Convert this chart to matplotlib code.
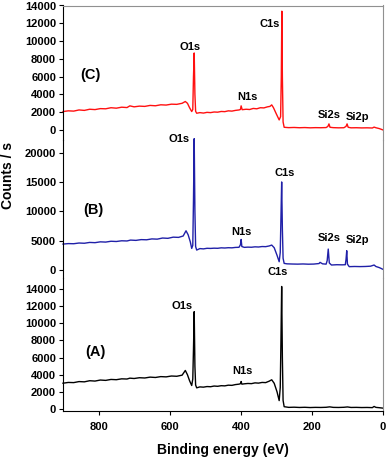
import matplotlib
matplotlib.use("Agg")
import matplotlib.pyplot as plt

# ---------------------------------------------------------------------------
# XPS survey spectra (binding energy eV, counts/s)
# ---------------------------------------------------------------------------
E_C = [900, 885, 870, 855, 840, 825, 810, 795, 780, 765, 750, 735, 720, 712,
       700, 685, 670, 655, 640, 625, 610, 595, 580, 565, 556, 550, 544, 538,
       535, 533, 531, 529, 527, 524, 515, 505, 495, 485, 475, 465, 455, 445,
       435, 425, 415, 405, 401, 399, 396, 385, 375, 365, 355, 345, 335, 325,
       318, 313, 308, 300, 292, 288, 286, 284.5, 283, 281, 278, 265, 250, 235,
       220, 205, 190, 175, 160, 155, 152, 149, 140, 125, 110, 104, 101, 98, 90,
       75, 60, 45, 30, 25, 20, 10, 0]
CNT_C = [2070, 2150, 2120, 2250, 2200, 2330, 2290, 2400, 2380, 2500, 2450, 2560,
         2520, 2710, 2600, 2680, 2650, 2760, 2720, 2830, 2800, 2900, 2880, 3000,
         3200, 3000, 2500, 2070, 2300, 6000, 8660, 4000, 2100, 1880, 1950, 1900,
         1980, 1950, 2020, 2000, 2080, 2060, 2150, 2120, 2200, 2250, 2300, 2710,
         2280, 2330, 2300, 2420, 2380, 2500, 2480, 2600, 2650, 2820, 2500, 1800,
         1130, 1500, 6000, 13360, 6000, 900, 300, 260, 280, 250, 270, 240, 260,
         250, 270, 400, 680, 300, 260, 240, 250, 400, 680, 300, 240, 250, 230,
         240, 220, 320, 250, 150, 0]

E_B = [900, 885, 870, 855, 840, 825, 810, 795, 780, 765, 750, 735, 720, 710,
       695, 680, 665, 650, 635, 620, 605, 590, 575, 562, 554, 548, 542, 538,
       535, 533, 531, 529, 527, 524, 515, 505, 495, 485, 475, 465, 455, 445,
       435, 425, 415, 405, 401, 399, 397, 390, 380, 370, 360, 350, 340, 330,
       320, 313, 306, 298, 292, 289, 287, 285, 283, 281, 278, 270, 255, 240,
       225, 210, 195, 180, 177, 170, 160, 157, 154, 151, 145, 130, 115, 106,
       104, 102, 100, 95, 80, 65, 50, 35, 25, 20, 10, 0]
CNT_B = [4420, 4500, 4480, 4600, 4560, 4700, 4660, 4800, 4760, 4900, 4860, 4980,
         4950, 5100, 5050, 5180, 5150, 5300, 5260, 5450, 5400, 5600, 5560, 5800,
         6690, 6000, 4800, 3680, 4200, 12000, 22390, 10000, 4000, 3400, 3650,
         3600, 3700, 3680, 3720, 3700, 3780, 3750, 3800, 3780, 3850, 3870, 4300,
         5210, 4000, 3860, 3900, 3880, 3950, 3920, 4000, 3980, 4100, 4250, 3800,
         2500, 1410, 3000, 9000, 15010, 7000, 2000, 1130, 1050, 1020, 1000, 1030,
         990, 1010, 1100, 1300, 1050, 1000, 1600, 3570, 1200, 850, 900, 880, 900,
         1800, 3290, 1000, 570, 600, 580, 600, 650, 850, 600, 400, 110]

E_A = [900, 885, 870, 855, 840, 825, 810, 795, 780, 765, 750, 735, 720, 712,
       700, 685, 670, 655, 640, 625, 610, 595, 580, 565, 556, 550, 544, 538,
       535, 533, 531, 529, 527, 524, 515, 505, 495, 485, 475, 465, 455, 445,
       435, 425, 415, 405, 401, 399, 397, 390, 380, 370, 360, 350, 340, 330,
       320, 313, 306, 298, 292, 289, 287, 285, 283, 281, 278, 265, 250, 235,
       220, 205, 190, 175, 160, 150, 140, 125, 110, 100, 90, 75, 60, 45, 30,
       25, 20, 10, 0]
CNT_A = [3010, 3100, 3080, 3200, 3170, 3300, 3260, 3380, 3340, 3450, 3420, 3520,
         3500, 3600, 3560, 3650, 3620, 3720, 3680, 3780, 3750, 3850, 3820, 3950,
         4500, 4000, 3300, 2740, 3500, 7000, 11360, 5000, 2800, 2470, 2580, 2550,
         2620, 2600, 2680, 2650, 2720, 2700, 2780, 2760, 2850, 2900, 2950, 3210,
         2900, 2940, 2980, 2960, 3050, 3020, 3100, 3080, 3250, 3410, 3000, 2000,
         980, 2500, 8000, 14300, 6000, 1000, 270, 190, 210, 180, 200, 170, 190,
         180, 200, 250, 190, 180, 200, 240, 180, 190, 170, 180, 160, 300, 190,
         150, 100]

X_TICKS = [800, 600, 400, 200, 0]
Y_TICKS_C = [0, 2000, 4000, 6000, 8000, 10000, 12000, 14000]
Y_TICKS_B = [0, 5000, 10000, 15000, 20000]
Y_TICKS_A = [0, 2000, 4000, 6000, 8000, 10000, 12000, 14000]

FONT = "Liberation Sans"
W, H = 387, 457


def px_axes(fig, top, bottom, left=63, right=383):
    return fig.add_axes([left / W, 1 - bottom / H, (right - left) / W,
                         (bottom - top) / H])


def style_axes(ax, ylim, yticks, show_top=False, show_bottom=False):
    ax.set_xlim(900, 0)
    ax.set_ylim(*ylim)
    ax.set_yticks(yticks)
    ax.tick_params(axis="y", direction="out", length=3, width=0.8, pad=2,
                   labelsize=8)
    for lab in ax.get_yticklabels():
        lab.set_fontweight("bold")
        lab.set_fontfamily(FONT)
    ax.spines["left"].set_color("black")
    ax.spines["right"].set_color("#909090")
    ax.spines["top"].set_color("#909090")
    ax.spines["top"].set_visible(show_top)
    ax.spines["bottom"].set_visible(show_bottom)
    ax.patch.set_alpha(0)
    if not show_bottom:
        ax.set_xticks([])


def label(ax, e, y, txt, size=8):
    ax.text(e, y, txt, ha="center", va="center", fontsize=size,
            fontweight="bold", fontfamily=FONT)


fig = plt.figure(figsize=(W / 100, H / 100), dpi=100)

ax_c = px_axes(fig, 5.5, 140)
ax_b = px_axes(fig, 140, 278)
ax_a = px_axes(fig, 278, 410.5)

# (C) red
ax_c.plot(E_C, CNT_C, color="#FF1010", lw=1.0, clip_on=False)
style_axes(ax_c, (-1130, 14000), Y_TICKS_C, show_top=True)
label(ax_c, 543, 9370, "O1s")
label(ax_c, 380, 3730, "N1s")
label(ax_c, 318, 11970, "C1s")
label(ax_c, 152, 1690, "Si2s")
label(ax_c, 72, 1470, "Si2p")
label(ax_c, 824, 6210, "(C)", size=10.5)

# (B) blue
ax_b.plot(E_B, CNT_B, color="#2020A8", lw=1.0, clip_on=False)
style_axes(ax_b, (-1364, 22165), Y_TICKS_B)
label(ax_b, 574, 22340, "O1s")
label(ax_b, 397, 6480, "N1s")
label(ax_b, 276, 16540, "C1s")
label(ax_b, 152, 5460, "Si2s")
label(ax_b, 73, 5120, "Si2p")
label(ax_b, 815, 10230, "(B)", size=10.5)

# (A) black
ax_a.plot(E_A, CNT_A, color="black", lw=1.0, clip_on=False)
style_axes(ax_a, (-175, 15290), Y_TICKS_A, show_bottom=True)
ax_a.set_xticks(X_TICKS)
ax_a.tick_params(axis="x", direction="out", length=3, width=0.8, pad=5,
                 labelsize=8)
for lab in ax_a.get_xticklabels():
    lab.set_fontweight("bold")
    lab.set_fontfamily(FONT)
label(ax_a, 565, 12020, "O1s")
label(ax_a, 394, 4430, "N1s")
label(ax_a, 295, 15990, "C1s")
label(ax_a, 810, 6650, "(A)", size=10.5)
ax_a.set_xlabel("Binding energy (eV)", fontsize=10, fontweight="bold",
                fontfamily=FONT, labelpad=8)

fig.text(8 / W, 1 - 175 / H, "Counts / s", rotation=90, ha="center",
         va="center", fontsize=10, fontweight="bold", fontfamily=FONT)

fig.savefig("out.png", dpi=100)
